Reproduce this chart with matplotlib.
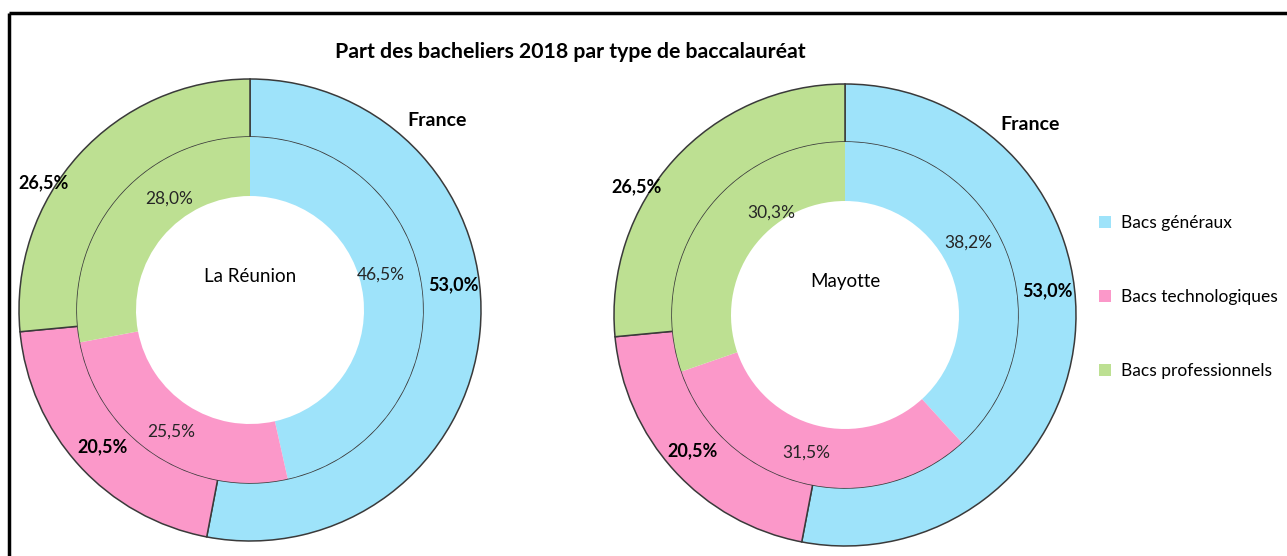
import matplotlib
matplotlib.use("Agg")
import matplotlib.pyplot as plt
from matplotlib.patches import Patch

plt.rcParams['font.family'] = ['Lato', 'DejaVu Sans']

# ---- data ----
categories = ["Bacs généraux", "Bacs technologiques", "Bacs professionnels"]
france = [53.0, 20.5, 26.5]
reunion = [46.5, 25.5, 28.0]
mayotte = [38.2, 31.5, 30.3]
regions = ["La Réunion", "Mayotte"]
title = "Part des bacheliers 2018 par type de baccalauréat"
outer_name = "France"

colors = ["#9ee3fa", "#fb98c9", "#bde092"]
edge = "#3a3a3a"

W, H = 1287, 556
fig = plt.figure(figsize=(W / 100, H / 100), dpi=100)
ax = fig.add_axes([0, 0, 1, 1])

def fmt(v):
    return f"{v:.1f}".replace(".", ",") + "%"

# layout (pixel coords, y from top)
centers = [(250, 310), (845, 315)]
R_out, R_mid, R_in = 231, 173, 114

# label positions (pixel coords)
outer_lab_pos = [
    [(453, 285), (103, 447), (44, 183)],
    [(1047, 291), (693, 451), (637, 187)],
]
inner_lab_pos = [
    [(381, 275), (171, 432), (169, 199)],
    [(968, 243), (806, 453), (771, 213)],
]
france_pos = [(437, 120), (1030, 124)]

for k, (vals, name) in enumerate(zip([reunion, mayotte], regions)):
    cx, cy = centers[k]
    c = (cx, H - cy)
    ax.pie(france, colors=colors, radius=R_out, center=c, startangle=90,
           counterclock=False, frame=True,
           wedgeprops=dict(width=R_out - R_mid, edgecolor=edge, linewidth=1.1))
    ax.pie(vals, colors=colors, radius=R_mid, center=c, startangle=90,
           counterclock=False, frame=True,
           wedgeprops=dict(width=R_mid - R_in, edgecolor='none', linewidth=0))
    for v, (px, py) in zip(france, outer_lab_pos[k]):
        ax.text(px, H - py, fmt(v), ha='center', va='center', fontsize=13,
                fontweight='bold', color='black')
    for v, (px, py) in zip(vals, inner_lab_pos[k]):
        ax.text(px, H - py, fmt(v), ha='center', va='center', fontsize=12.5,
                color='#262626')
    ax.text(cx, H - cy + 33, name, ha='center', va='center', fontsize=13.5,
            color='black')
    fx, fy = france_pos[k]
    ax.text(fx, H - fy, outer_name, ha='center', va='center', fontsize=14,
            fontweight='bold', color='black')

ax.text(570, H - 52, title, ha='center', va='center', fontsize=15.3,
        fontweight='bold', color='black')

# frame lines (top and left)
ax.plot([9, W], [H - 13, H - 13], color='black', lw=2.5, solid_capstyle='butt')
ax.plot([9, 9], [0, H - 13], color='black', lw=2.5, solid_capstyle='butt')

handles = [Patch(facecolor=col, edgecolor='none') for col in colors]
leg = ax.legend(handles, categories, loc='upper left',
                bbox_to_anchor=(1092 / W, 1 - 208 / H), frameon=False,
                fontsize=12.5, handlelength=0.7, handleheight=0.7,
                handletextpad=0.55, labelspacing=3.35, borderaxespad=0)

ax.set_xlim(0, W)
ax.set_ylim(0, H)
ax.set_aspect('equal')
ax.axis('off')

fig.savefig("out.png", dpi=100)
